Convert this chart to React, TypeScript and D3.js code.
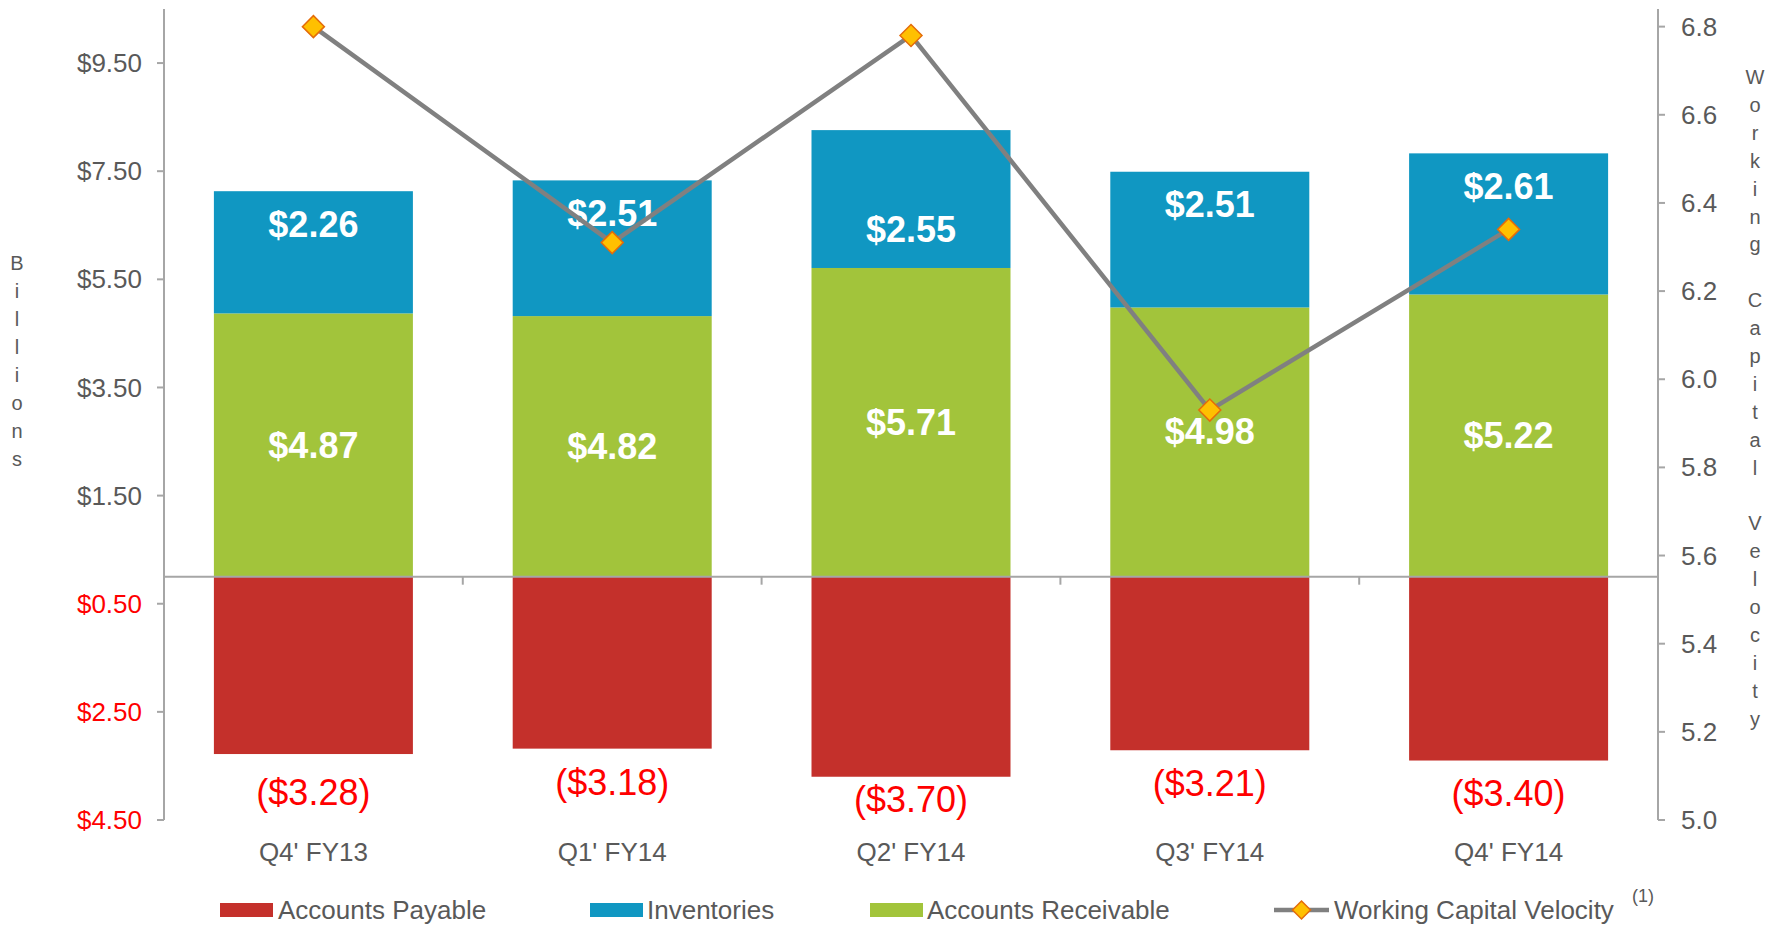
import React from "react";
import * as d3 from "d3";

const categories = ["Q4' FY13", "Q1' FY14", "Q2' FY14", "Q3' FY14", "Q4' FY14"];
const accountsPayable = [3.28, 3.18, 3.7, 3.21, 3.4];
const inventories = [2.26, 2.51, 2.55, 2.51, 2.61];
const accountsReceivable = [4.87, 4.82, 5.71, 4.98, 5.22];
const velocity = [6.8, 6.31, 6.78, 5.93, 6.34];
const leftTicks = [-4.5, -2.5, -0.5, 1.5, 3.5, 5.5, 7.5, 9.5];
const rightTicks = [5.0, 5.2, 5.4, 5.6, 5.8, 6.0, 6.2, 6.4, 6.6, 6.8];

// label nudges (px), as placed by hand in the source slide
const invLabelNudge = [0, 0, 66, 0, 0];
const arLabelNudge = [0, 0, 0, -11, 0];
const apLabelNudge = [6, 1, -10, 1, 0];

const W = 1781;
const H = 925;
const FONT = "'Liberation Sans', Arial, Helvetica, sans-serif";
const RED = "#C4302B";
const BLUE = "#1097C2";
const GREEN = "#A2C43B";
const GRAY_TEXT = "#595959";
const AXIS = "#A6A6A6";
const LINE = "#808080";
const MARK_FILL = "#FFC000";
const MARK_STROKE = "#E46C0A";

const left = 164;
const right = 1658;
const top = 9;
const bottom = 820;

export default function App() {
  const x = d3
    .scaleBand<string>()
    .domain(categories)
    .range([left, right])
    .paddingInner(0.334)
    .paddingOuter(0.167);
  const y = d3.scaleLinear().domain([-4.5, 10.5]).range([bottom, top]);
  const y2 = d3.scaleLinear().domain([5.0, 6.84]).range([bottom, top]);
  const step = x.step();
  const bw = x.bandwidth();
  const cx = (c: string) => (x(c) as number) + bw / 2;

  const lineGen = d3
    .line<number>()
    .x((_, i) => cx(categories[i]))
    .y((d) => y2(d));

  const diamond = (px: number, py: number, r: number) =>
    `M${px},${py - r}L${px + r},${py}L${px},${py + r}L${px - r},${py}Z`;

  const billions = "Billions".split("");
  const wcv = "Working Capital Velocity".split("");

  const legend = [
    { type: "rect", color: RED, label: "Accounts Payable", sx: 220, tx: 278 },
    { type: "rect", color: BLUE, label: "Inventories", sx: 590, tx: 647 },
    { type: "rect", color: GREEN, label: "Accounts Receivable", sx: 870, tx: 927 },
    { type: "line", color: LINE, label: "Working Capital Velocity", sx: 1274, tx: 1334 },
  ];
  const legY = 910;

  return (
    <svg
      width={W}
      height={H}
      style={{ position: "absolute", left: 0, top: 0, display: "block", background: "#fff" }}
      fontFamily={FONT}
    >
      {/* bars */}
      {categories.map((c, i) => {
        const bx = x(c) as number;
        const ar = accountsReceivable[i];
        const inv = inventories[i];
        const ap = accountsPayable[i];
        return (
          <g key={c}>
            <rect x={bx} y={y(ar)} width={bw} height={y(0) - y(ar)} fill={GREEN} />
            <rect x={bx} y={y(ar + inv)} width={bw} height={y(ar) - y(ar + inv)} fill={BLUE} />
            <rect x={bx} y={y(0)} width={bw} height={y(-ap) - y(0)} fill={RED} />
          </g>
        );
      })}

      {/* zero line with category ticks */}
      <line x1={left} x2={right} y1={y(0)} y2={y(0)} stroke={AXIS} strokeWidth={2} />
      {d3.range(categories.length + 1).map((k) => (
        <line
          key={k}
          x1={left + k * step}
          x2={left + k * step}
          y1={y(0)}
          y2={y(0) + 8}
          stroke={AXIS}
          strokeWidth={2}
        />
      ))}

      {/* left axis */}
      <line x1={left} x2={left} y1={top} y2={bottom} stroke={AXIS} strokeWidth={2} />
      {leftTicks.map((v) => (
        <g key={v}>
          <line x1={left - 7} x2={left} y1={y(v)} y2={y(v)} stroke={AXIS} strokeWidth={2} />
          <text
            x={left - 22}
            y={y(v)}
            dy="0.35em"
            textAnchor="end"
            fontSize={26}
            fill={v < 0 ? "#FF0000" : GRAY_TEXT}
          >
            {`$${Math.abs(v).toFixed(2)}`}
          </text>
        </g>
      ))}

      {/* right axis */}
      <line x1={right} x2={right} y1={top} y2={bottom} stroke={AXIS} strokeWidth={2} />
      {rightTicks.map((v) => (
        <g key={v}>
          <line x1={right} x2={right + 7} y1={y2(v)} y2={y2(v)} stroke={AXIS} strokeWidth={2} />
          <text x={right + 23} y={y2(v)} dy="0.35em" textAnchor="start" fontSize={26} fill={GRAY_TEXT}>
            {v.toFixed(1)}
          </text>
        </g>
      ))}

      {/* axis titles as stacked letters */}
      {billions.map((ch, i) => (
        <text key={"b" + i} x={17} y={263 + i * 28} dy="0.35em" textAnchor="middle" fontSize={20} fill={GRAY_TEXT}>
          {ch}
        </text>
      ))}
      {wcv.map((ch, i) => (
        <text key={"w" + i} x={1755} y={77 + i * 27.9} dy="0.35em" textAnchor="middle" fontSize={20} fill={GRAY_TEXT}>
          {ch}
        </text>
      ))}

      {/* category labels */}
      {categories.map((c) => (
        <text key={c} x={cx(c)} y={852} dy="0.35em" textAnchor="middle" fontSize={26} fill={GRAY_TEXT}>
          {c}
        </text>
      ))}

      {/* value labels */}
      {categories.map((c, i) => {
        const ar = accountsReceivable[i];
        const inv = inventories[i];
        const ap = accountsPayable[i];
        return (
          <g key={"l" + c}>
            <text
              x={cx(c)}
              y={(y(0) + y(ar)) / 2 + arLabelNudge[i]}
              dy="0.35em"
              textAnchor="middle"
              fontSize={36}
              fontWeight="bold"
              fill="#fff"
            >
              {`$${ar.toFixed(2)}`}
            </text>
            <text
              x={cx(c)}
              y={y(ar + inv) + 33 + invLabelNudge[i]}
              dy="0.35em"
              textAnchor="middle"
              fontSize={36}
              fontWeight="bold"
              fill="#fff"
            >
              {`$${inv.toFixed(2)}`}
            </text>
            <text x={cx(c)} y={y(-ap) + 45 + apLabelNudge[i]} textAnchor="middle" fontSize={36} fill="#FF0000">
              {`($${ap.toFixed(2)})`}
            </text>
          </g>
        );
      })}

      {/* velocity line */}
      <path d={lineGen(velocity) || ""} fill="none" stroke={LINE} strokeWidth={4.5} strokeLinejoin="round" />
      {velocity.map((v, i) => (
        <path
          key={"m" + i}
          d={diamond(cx(categories[i]), y2(v), 11)}
          fill={MARK_FILL}
          stroke={MARK_STROKE}
          strokeWidth={1.5}
        />
      ))}

      {/* legend */}
      {legend.map((it) => (
        <g key={it.label}>
          {it.type === "rect" ? (
            <rect x={it.sx} y={legY - 7} width={53} height={14} fill={it.color} />
          ) : (
            <g>
              <line x1={it.sx} x2={it.sx + 55} y1={legY} y2={legY} stroke={LINE} strokeWidth={4.5} />
              <path d={diamond(it.sx + 27.5, legY, 9)} fill={MARK_FILL} stroke={MARK_STROKE} strokeWidth={1.5} />
            </g>
          )}
          <text x={it.tx} y={legY} dy="0.35em" fontSize={26} fill={GRAY_TEXT}>
            {it.label}
          </text>
        </g>
      ))}
      <text x={1632} y={896} dy="0.35em" fontSize={18} fill={GRAY_TEXT}>
        (1)
      </text>
    </svg>
  );
}
